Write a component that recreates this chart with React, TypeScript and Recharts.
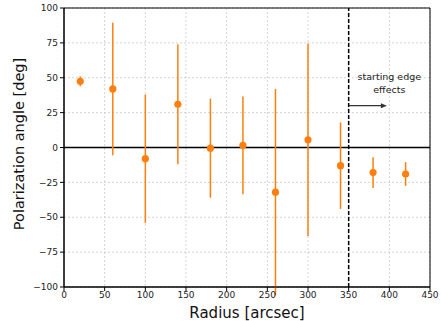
import {
  CartesianGrid,
  ComposedChart,
  ErrorBar,
  ReferenceArea,
  ReferenceDot,
  ReferenceLine,
  Scatter,
  XAxis,
  YAxis,
} from 'recharts';

// polarization angle vs radius, with 1-sigma errors
const radius = [20, 60, 100, 140, 180, 220, 260, 300, 340, 380, 420];
const angle = [47.5, 42, -8, 31, -0.5, 1.5, -32, 5.5, -13, -18, -19];
const angleErr = [3.5, 47.5, 46, 43, 35.5, 35, 74, 69, 31, 11, 8.5];

const xTicks = [0, 50, 100, 150, 200, 250, 300, 350, 400, 450];
const yTicks = [-100, -75, -50, -25, 0, 25, 50, 75, 100];

// edge-effect marker and its note
const edgeRadius = 350;
const noteLines = ['starting edge', 'effects'];
const notePos = { x: 400, y: 46 };
const arrowFrom = { x: 350, y: 30 };
const arrowTo = { x: 397, y: 30 };

const points = radius.map((r, i) => ({ radius: r, angle: angle[i], err: angleErr[i] }));

const ORANGE = '#ff7f0e';
const FONT = "'DejaVu Sans', sans-serif";
const fmt = (v: number) => String(v).replace('-', '\u2212');

const tickStyle = { fontSize: 9, fill: '#222', fontFamily: FONT };

const Dot = (p: any) => <circle cx={p.cx} cy={p.cy} r={3.6} fill={ORANGE} />;

const Arrow = (p: any) => {
  const { x1, y1, x2, y2 } = p;
  return (
    <g>
      <line x1={x1} y1={y1} x2={x2 - 5} y2={y2} stroke='#333' strokeWidth={1.1} />
      <polygon points={`${x2},${y2} ${x2 - 6},${y2 - 2.5} ${x2 - 6},${y2 + 2.5}`} fill='#333' />
    </g>
  );
};

const Note = ({ viewBox }: any) => {
  const cx = viewBox.x + (viewBox.width || 0) / 2;
  const cy = viewBox.y + (viewBox.height || 0) / 2;
  return (
    <text x={cx} y={cy - 6.5} textAnchor='middle' fontSize={9.5} fill='#222' fontFamily={FONT}>
      {noteLines.map((t, i) => (
        <tspan key={t} x={cx} dy={i === 0 ? 3.3 : 13}>
          {t}
        </tspan>
      ))}
    </text>
  );
};

const YTitle = () => (
  <text
    transform='translate(19,144) rotate(-90)'
    textAnchor='middle'
    dominantBaseline='central'
    fontSize={14.5}
    fill='#111'
    fontFamily={FONT}
  >
    Polarization angle [deg]
  </text>
);

const XTitle = ({ viewBox }: any) => (
  <text
    x={viewBox.x + viewBox.width / 2}
    y={313}
    textAnchor='middle'
    dominantBaseline='central'
    fontSize={15}
    fill='#111'
    fontFamily={FONT}
  >
    Radius [arcsec]
  </text>
);

export default function App() {
  return (
    <div style={{ position: 'absolute', left: 0, top: 0, width: 441, height: 321, background: '#fff' }}>
      <ComposedChart
        width={441}
        height={321}
        data={points}
        margin={{ top: 8, right: 11, bottom: 0, left: 0 }}
      >
        <CartesianGrid strokeDasharray='2 2' stroke='#c8c8c8' strokeWidth={0.8} />
        <XAxis
          type='number'
          dataKey='radius'
          domain={[0, 450]}
          ticks={xTicks}
          height={34}
          tickSize={4}
          tickMargin={1}
          tick={tickStyle}
          tickLine={{ stroke: '#000' }}
          axisLine={{ stroke: '#000' }}
          tickFormatter={fmt}
          interval={0}
          label={{ content: XTitle }}
        />
        <YAxis
          type='number'
          domain={[-100, 100]}
          allowDataOverflow
          ticks={yTicks}
          width={64}
          tickSize={4}
          tickMargin={2}
          tick={tickStyle}
          tickLine={{ stroke: '#000' }}
          axisLine={{ stroke: '#000' }}
          tickFormatter={fmt}
          interval={0}
          label={{ content: YTitle }}
        />
        <ReferenceLine y={0} stroke='#000' strokeWidth={1.5} />
        <ReferenceLine x={edgeRadius} stroke='#000' strokeWidth={1.5} strokeDasharray='4 2' />
        <Scatter dataKey='angle' isAnimationActive={false} shape={Dot}>
          <ErrorBar dataKey='err' direction='y' width={0} stroke={ORANGE} strokeWidth={1.5} isAnimationActive={false} />
        </Scatter>
        <ReferenceLine segment={[arrowFrom, arrowTo]} shape={Arrow} />
        <ReferenceDot x={notePos.x} y={notePos.y} r={0} fill='none' stroke='none' label={{ content: Note }} />
        <ReferenceArea x1={0} x2={450} y1={-100} y2={100} fill='none' stroke='#000' strokeWidth={1} />
      </ComposedChart>
    </div>
  );
}
